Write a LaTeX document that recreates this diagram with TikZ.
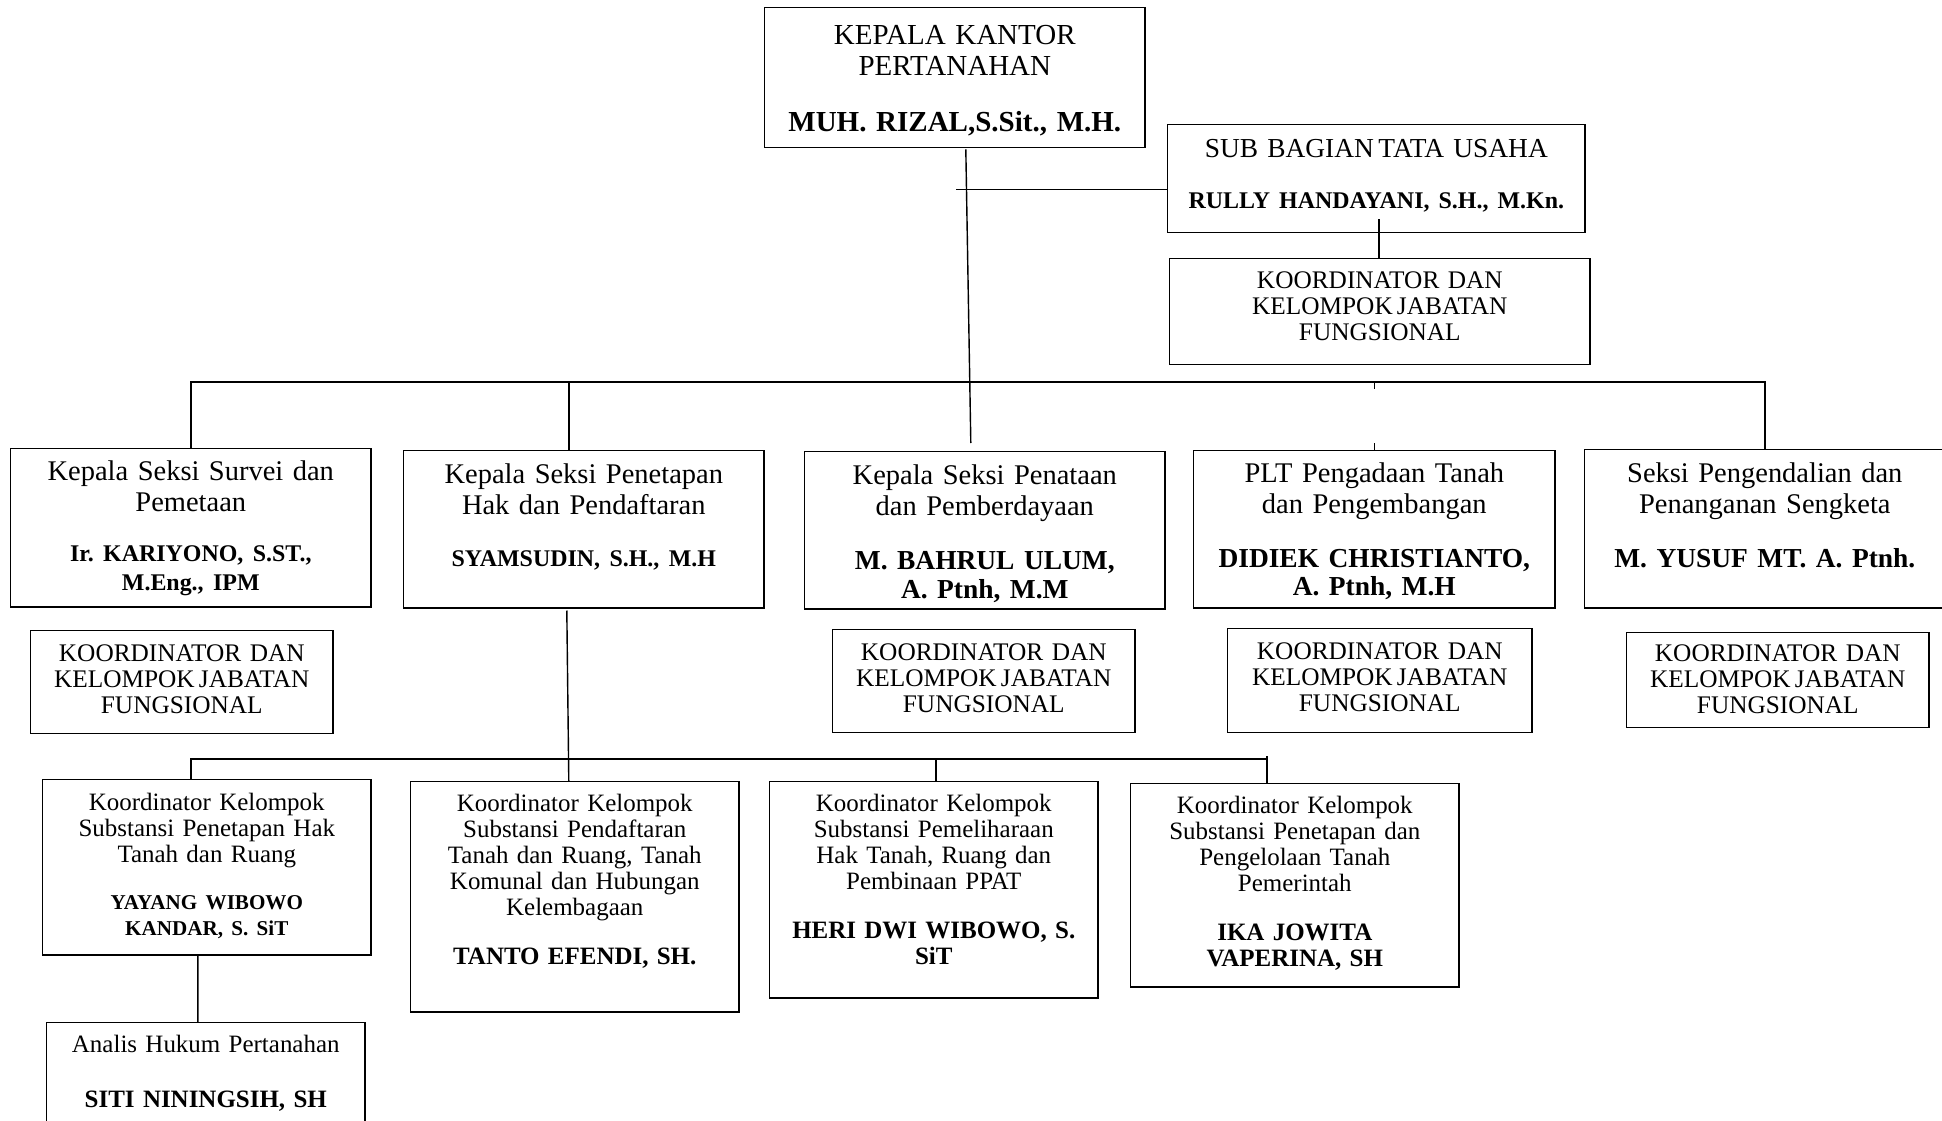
\documentclass[tikz,border=0pt]{standalone}
\usepackage{fontspec}
\setmainfont{Liberation Serif}
\usetikzlibrary{calc}
\frenchspacing

\begin{document}
\begin{tikzpicture}[
        x=0.01cm, y=-0.01cm,
        box/.style={draw, inner sep=0pt, anchor=north west, align=center},
        judul/.style={font=\fontsize{8.25}{8.8}\selectfont},
        subbag/.style={font=\fontsize{7.8}{8.5}\selectfont},
        kjf/.style={font=\fontsize{7.2}{7.4}\selectfont},
        seksi/.style={font=\fontsize{8.1}{8.8}\selectfont},
        koord/.style={font=\fontsize{7.1}{7.4}\selectfont}
        ]
        \useasboundingbox (0,0) rectangle (1942,1121);

        % pimpinan dan tata usaha
        \node[box, judul, text width=3.80cm, text height=0.37cm, text depth=1.03cm] (kepala) at (764,7)
            {KEPALA KANTOR\\ PERTANAHAN\\[7.1pt] \textbf{MUH. RIZAL,S.Sit., M.H.}};
        \node[box, subbag, text width=4.17cm, text height=0.33cm, text depth=0.75cm] (tu) at (1167,124)
            {SUB BAGIAN\,TATA USAHA\\[6pt] {\bfseries\fontsize{6.8}{8.5}\selectfont RULLY HANDAYANI, S.H., M.Kn.}};
        \node[box, kjf, text width=4.20cm, text height=0.30cm, text depth=0.76cm] (kjf0) at (1169,258)
            {KOORDINATOR DAN\\ KELOMPOK\,JABATAN\\ FUNGSIONAL};

        % seksi
        \node[box, seksi, text width=3.60cm, text height=0.32cm, text depth=1.26cm] (survei) at (10,448)
            {Kepala Seksi Survei dan\\ Pemetaan\\[6.3pt] {\bfseries\fontsize{6.8}{8}\selectfont Ir. KARIYONO, S.ST.,\\[-0.7pt] M.Eng., IPM}};
        \node[box, seksi, text width=3.60cm, text height=0.33cm, text depth=1.24cm] (penetapan) at (403,450)
            {Kepala Seksi Penetapan\\ Hak dan Pendaftaran\\[6pt] {\bfseries\fontsize{6.8}{8}\selectfont SYAMSUDIN, S.H., M.H}};
        \node[box, seksi, text width=3.60cm, text height=0.33cm, text depth=1.24cm] (penataan) at (804,451)
            {Kepala Seksi Penataan\\ dan Pemberdayaan\\[6.6pt] {\bfseries\fontsize{7.8}{8.8}\selectfont M. BAHRUL ULUM,\\[-0.6pt] A. Ptnh, M.M}};
        \node[box, seksi, text width=3.61cm, text height=0.32cm, text depth=1.25cm] (plt) at (1193,450)
            {PLT Pengadaan Tanah\\ dan Pengembangan\\[6.4pt] {\bfseries\fontsize{7.8}{8.8}\selectfont DIDIEK CHRISTIANTO,\\[-0.6pt] A. Ptnh, M.H}};
        \node[box, seksi, text width=3.60cm, text height=0.33cm, text depth=1.25cm] (pengendalian) at (1584,449)
            {Seksi Pengendalian dan\\ Penanganan Sengketa\\[6.4pt] {\bfseries\fontsize{7.8}{8.8}\selectfont M. YUSUF MT. A. Ptnh.}};

        % kelompok jabatan fungsional
        \node[box, kjf, text width=3.02cm, text height=0.31cm, text depth=0.72cm] (kjf1) at (30,630)
            {KOORDINATOR DAN\\ KELOMPOK\,JABATAN\\ FUNGSIONAL};
        \node[box, kjf, text width=3.02cm, text height=0.31cm, text depth=0.72cm] (kjf3) at (832,629)
            {KOORDINATOR DAN\\ KELOMPOK\,JABATAN\\ FUNGSIONAL};
        \node[box, kjf, text width=3.04cm, text height=0.31cm, text depth=0.73cm] (kjf4) at (1227,628)
            {KOORDINATOR DAN\\ KELOMPOK\,JABATAN\\ FUNGSIONAL};
        \node[box, kjf, text width=3.02cm, text height=0.29cm, text depth=0.66cm] (kjf5) at (1626,632)
            {KOORDINATOR DAN\\ KELOMPOK\,JABATAN\\ FUNGSIONAL};

        % koordinator kelompok substansi
        \node[box, koord, text width=3.28cm, text height=0.31cm, text depth=1.44cm] (kk1) at (42,779)
            {Koordinator Kelompok\\ Substansi Penetapan Hak\\ Tanah dan Ruang\\[5.9pt] {\bfseries\fontsize{6}{7.4}\selectfont YAYANG WIBOWO\\ KANDAR, S. SiT}};
        \node[box, koord, text width=3.28cm, text height=0.30cm, text depth=2.00cm] (kk2) at (410,781)
            {Koordinator Kelompok\\ Substansi Pendaftaran\\ Tanah dan Ruang, Tanah\\ Komunal dan Hubungan\\ Kelembagaan\\[6.5pt] \textbf{TANTO EFENDI, SH.}};
        \node[box, koord, text width=3.28cm, text height=0.30cm, text depth=1.86cm] (kk3) at (769,781)
            {Koordinator Kelompok\\ Substansi Pemeliharaan\\ Hak Tanah, Ruang dan\\ Pembinaan PPAT\\[6.5pt] \textbf{HERI DWI WIBOWO, S.\\ SiT}};
        \node[box, koord, text width=3.28cm, text height=0.30cm, text depth=1.73cm] (kk4) at (1130,783)
            {Koordinator Kelompok\\ Substansi Penetapan dan\\ Pengelolaan Tanah\\ Pemerintah\\[6.5pt] \textbf{IKA JOWITA\\ VAPERINA, SH}};
        \node[box, koord, text width=3.18cm, text height=0.30cm, text depth=1.30cm] (analis) at (46,1022)
            {Analis Hukum Pertanahan\\[8.3pt] \textbf{SITI NININGSIH, SH}};

        % garis
        \coordinate (bus1) at (0,382);
        \coordinate (bus2) at (0,759);
        \draw ($(kepala.south)+(11,1)$) -- ($(penataan.north)+(-14,-8)$);
        \draw ($(tu.west)+(0,11)$) -- ++(-211,0);
        \draw ($(kjf0.north)+(-1,-39)$) -- ($(kjf0.north)+(-1,0)$);
        \draw (survei.north) -- (survei.north |- bus1) -- (pengendalian.north |- bus1) -- (pengendalian.north);
        \draw ($(penetapan.north)+(-15,0)$) -- ($(penetapan.north |- bus1)+(-15,0)$);
        \draw (plt.north |- bus1) -- ++(0,7);
        \draw (plt.north) -- ++(0,-7);
        \draw ($(penetapan.south)+(-17,2)$) -- ($(kk2.north)+(-6,0)$);
        \draw ($(kk1.north)+(-16,0)$) -- ($(kk1.north |- bus2)+(-16,0)$) -- ($(kk4.north |- bus2)+(-28,0)$) -- ++(0,-3);
        \draw ($(kk3.north)+(2,0)$) -- ($(kk3.north |- bus2)+(2,0)$);
        \draw ($(kk4.north)+(-28,0)$) -- ($(kk4.north |- bus2)+(-28,0)$);
        \draw ($(kk1.south)+(-9,0)$) -- ($(analis.north)+(-8,0)$);
\end{tikzpicture}
\end{document}
